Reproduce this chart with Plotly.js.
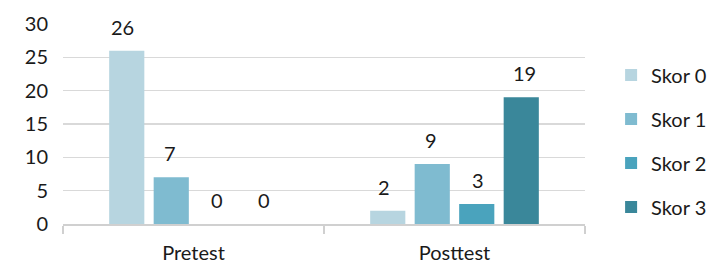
<!DOCTYPE html>
<html><head><meta charset="utf-8">
<script src="https://cdn.plot.ly/plotly-3.0.1.min.js"></script>
<style>html,body{margin:0;padding:0;background:#fff;}#chart{width:714px;height:266px;}</style>
</head><body><div id="chart"></div>
<script>
const categories = ["Pretest", "Posttest"];
const seriesNames = ["Skor 0", "Skor 1", "Skor 2", "Skor 3"];
const skor0 = [26, 2];
const skor1 = [7, 9];
const skor2 = [0, 3];
const skor3 = [0, 19];
const yTicks = [0, 5, 10, 15, 20, 25, 30];

const seriesValues = [skor0, skor1, skor2, skor3];
const colors = ["#B7D5E0", "#7FBBD0", "#4AA3BD", "#3A879A"];
const xshifts = [-71, -24, 23, 70];
const FONT = "Lato, 'Open Sans', sans-serif";

const traces = seriesValues.map((vals, i) => ({
  type: "bar", name: seriesNames[i], x: categories, y: vals,
  marker: {color: colors[i]}, legendgroup: "g" + i, hoverinfo: "none"
}));

const annotations = [];
seriesValues.forEach((vals, i) => {
  vals.forEach((v, j) => {
    annotations.push({x: categories[j], y: v, xref: "x", yref: "y", text: String(v),
      showarrow: false, xshift: xshifts[i], yshift: 24, yanchor: "middle",
      font: {family: FONT, size: 20, color: "#1a1a1a"}});
  });
});

const layout = {
  width: 714, height: 266,
  margin: {l: 63, r: 129, t: 24, b: 42, autoexpand: false},
  paper_bgcolor: "#fff", plot_bgcolor: "#fff",
  font: {family: FONT, size: 20, color: "#1a1a1a"},
  barmode: "group", bargap: 0.318, bargroupgap: 0.21,
  showlegend: true,
  legend: {x: 1.05, y: 0.415, xanchor: "left", yanchor: "middle", tracegroupgap: 15,
    font: {family: FONT, size: 20, color: "#1a1a1a"}, itemclick: false},
  xaxis: {showgrid: false, showline: true, linecolor: "#d0d0d0", linewidth: 1.5,
    ticks: "outside", ticklen: 8, tickcolor: "#d0d0d0", tickwidth: 1.5,
    tickson: "boundaries", ticklabelstandoff: 10, fixedrange: true},
  yaxis: {range: [0, 30], tickvals: yTicks, showgrid: true, gridcolor: "#d9d9d9", gridwidth: 1.5,
    zeroline: false, showline: false, ticks: "", ticklabelstandoff: 14, fixedrange: true},
  annotations: annotations
};

Plotly.newPlot("chart", traces, layout, {displayModeBar: false, staticPlot: true});
</script></body></html>
